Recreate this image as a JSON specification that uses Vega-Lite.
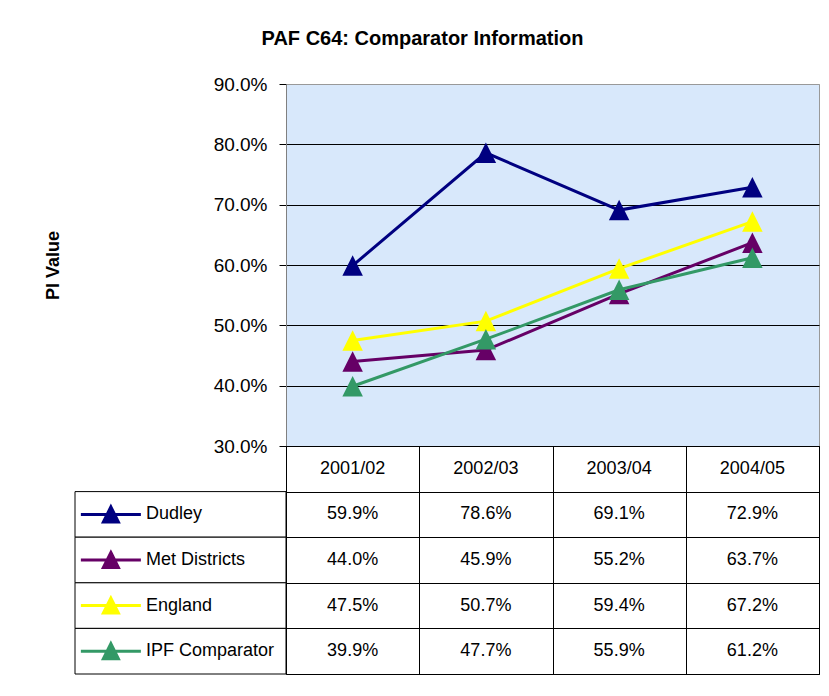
{
  "$schema": "https://vega.github.io/schema/vega-lite/v6.json",
  "padding": {"left": 43, "top": 28, "right": 11, "bottom": 22},
  "title": {"text": "PAF C64: Comparator Information", "fontSize": 20, "fontWeight": "bold", "font": "Liberation Sans", "anchor": "middle", "offset": 26, "dx": -9, "color": "black"},
  "config": {"font": "Liberation Sans", "background": "white"},
  "datasets": {
    "pi": [
      {"series": "Dudley", "year": "2001/02", "value": 0.599},
      {"series": "Dudley", "year": "2002/03", "value": 0.786},
      {"series": "Dudley", "year": "2003/04", "value": 0.691},
      {"series": "Dudley", "year": "2004/05", "value": 0.729},
      {"series": "Met Districts", "year": "2001/02", "value": 0.440},
      {"series": "Met Districts", "year": "2002/03", "value": 0.459},
      {"series": "Met Districts", "year": "2003/04", "value": 0.552},
      {"series": "Met Districts", "year": "2004/05", "value": 0.637},
      {"series": "England", "year": "2001/02", "value": 0.475},
      {"series": "England", "year": "2002/03", "value": 0.507},
      {"series": "England", "year": "2003/04", "value": 0.594},
      {"series": "England", "year": "2004/05", "value": 0.672},
      {"series": "IPF Comparator", "year": "2001/02", "value": 0.399},
      {"series": "IPF Comparator", "year": "2002/03", "value": 0.477},
      {"series": "IPF Comparator", "year": "2003/04", "value": 0.559},
      {"series": "IPF Comparator", "year": "2004/05", "value": 0.612}
    ]
  },
  "bounds": "flush",
  "spacing": 0,
  "columns": 2,
  "concat": [
    {
      "width": 211, "height": 362,
      "data": {"values": [{}]},
      "mark": {"type": "point", "opacity": 0},
      "view": {"stroke": null}
    },
    {
      "width": 533, "height": 362,
      "data": {"name": "pi"},
      "view": {"fill": "#d8e8fb", "stroke": "#999999"},
      "encoding": {
        "x": {"field": "year", "type": "ordinal", "axis": null, "scale": {"type": "point", "padding": 0.5}},
        "y": {
          "field": "value", "type": "quantitative",
          "scale": {"domain": [0.3, 0.9], "nice": false, "zero": false},
          "axis": {
            "values": [0.3, 0.4, 0.5, 0.6, 0.7, 0.8, 0.9],
            "format": ".1%",
            "labelFontSize": 19, "labelColor": "black", "labelPadding": 12,
            "tickSize": 7, "tickColor": "black", "domainColor": "#808080",
            "grid": true,
            "gridColor": {"condition": {"test": "datum.value >= 0.89", "value": "#999999"}, "value": "black"},
            "title": "PI Value", "titleFontSize": 18, "titleFontWeight": "bold", "titleColor": "black",
            "titleX": -233, "titleY": 181, "titleAngle": 270, "titleAlign": "center", "titleBaseline": "middle"
          }
        },
        "color": {
          "field": "series", "type": "nominal",
          "scale": {"domain": ["Dudley", "Met Districts", "England", "IPF Comparator"], "range": ["#000080", "#660066", "#ffff00", "#339966"]},
          "legend": null
        }
      },
      "layer": [
        {"mark": {"type": "line", "strokeWidth": 3}},
        {"mark": {"type": "point", "filled": true, "opacity": 1, "size": 420, "shape": "M0,-1L1,1L-1,1Z"}}
      ]
    },
    {
      "width": 211, "height": 228,
      "data": {"name": "pi"},
      "view": {"stroke": null},
      "transform": [{"aggregate": [{"op": "count", "as": "n"}], "groupby": ["series"]}],
      "encoding": {
        "y": {"field": "series", "type": "ordinal", "axis": null,
              "scale": {"type": "band", "domain": ["hdr", "Dudley", "Met Districts", "England", "IPF Comparator"], "paddingInner": 0, "paddingOuter": 0}}
      },
      "layer": [
        {"mark": {"type": "rect", "fill": "white", "stroke": "black", "strokeWidth": 1}},
        {
          "mark": {"type": "point", "filled": true, "opacity": 1, "size": 3600, "strokeWidth": 3, "shape": "M-1,0L1,0M0,-0.25L0.25,0.25L-0.25,0.25Z"},
          "encoding": {
            "x": {"datum": 0.17, "type": "quantitative", "scale": {"domain": [0, 1]}, "axis": null},
            "color": {"field": "series", "type": "nominal",
              "scale": {"domain": ["Dudley", "Met Districts", "England", "IPF Comparator"], "range": ["#000080", "#660066", "#ffff00", "#339966"]}, "legend": null},
            "stroke": {"field": "series", "type": "nominal",
              "scale": {"domain": ["Dudley", "Met Districts", "England", "IPF Comparator"], "range": ["#000080", "#660066", "#ffff00", "#339966"]}, "legend": null}
          }
        },
        {
          "mark": {"type": "text", "align": "left", "baseline": "middle", "fontSize": 18, "color": "black"},
          "encoding": {
            "x": {"datum": 0.336, "type": "quantitative"},
            "text": {"field": "series"}
          }
        }
      ]
    },
    {
      "width": 533, "height": 228,
      "data": {"name": "pi"},
      "view": {"stroke": "black", "fill": "white"},
      "encoding": {
        "x": {"field": "year", "type": "ordinal",
              "scale": {"type": "band", "paddingInner": 0, "paddingOuter": 0},
              "axis": {"orient": "top", "labels": false, "ticks": false, "domain": false, "title": null, "grid": true, "gridColor": "black", "tickBand": "extent"}},
        "y": {"field": "series", "type": "ordinal",
              "scale": {"type": "band", "domain": ["hdr", "Dudley", "Met Districts", "England", "IPF Comparator"], "paddingInner": 0, "paddingOuter": 0},
              "axis": {"labels": false, "ticks": false, "domain": false, "title": null, "grid": true, "gridColor": "black", "tickBand": "extent"}}
      },
      "layer": [
        {
          "mark": {"type": "text", "fontSize": 18, "color": "black"},
          "encoding": {"text": {"field": "value", "type": "quantitative", "format": ".1%"}}
        },
        {
          "transform": [{"aggregate": [{"op": "count", "as": "n"}], "groupby": ["year"]}],
          "mark": {"type": "text", "fontSize": 18, "color": "black"},
          "encoding": {
            "y": {"datum": "hdr", "type": "ordinal"},
            "text": {"field": "year"}
          }
        }
      ]
    }
  ]
}
